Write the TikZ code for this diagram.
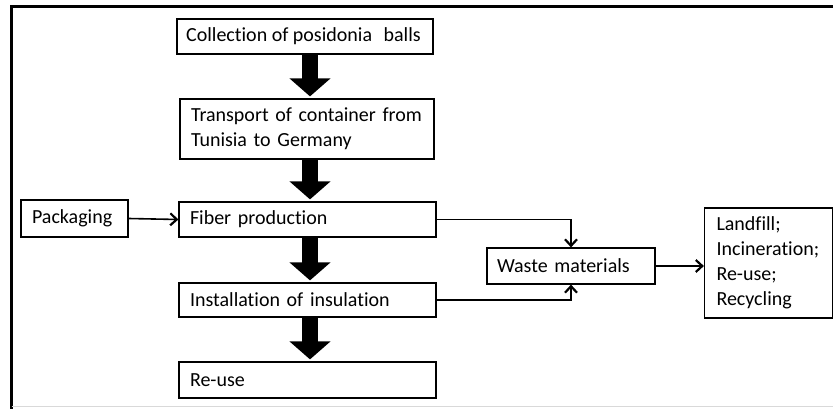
\documentclass[tikz,border=0pt]{standalone}
\usepackage{fontspec}
\setmainfont[Ligatures={NoCommon,NoContextual},Contextuals={NoAlternate}]{Carlito}
\usetikzlibrary{arrows.meta}
\begin{document}
\begin{tikzpicture}[x=1pt,y=-1pt,
  box/.style={draw, line width=1.2pt, inner xsep=11pt, inner ysep=2pt, align=left,
    font=\fontsize{20}{25}\selectfont},
  bigarrow/.style={line width=16pt, -{Triangle[length=18pt,width=40pt]}, shorten >=2pt},
  thinarrow/.style={line width=1.6pt, -{Straight Barb[length=6.5pt,width=12pt,line width=2.2pt]}}
]
\useasboundingbox (0,0) rectangle (833,409);
% frame
\draw[line width=2.5pt] (11.5,412) -- (11.5,6.5) -- (840,6.5);
\draw[line width=1pt, black!15] (11.5,406.5) -- (840,406.5);
% boxes
\node[box, align=center, inner xsep=0pt, minimum width=256pt, minimum height=35pt] (coll) at (305,36.5) {\hspace{-3pt}Collection of posidonia\hspace{0.35em} balls};
\node[box, minimum width=254pt, minimum height=60pt, text width=232pt] (trans) at (307,129) {Transport of container from\\Tunisia to Germany};
\node[box, minimum width=257pt, minimum height=35pt, text width=235pt] (fiber) at (307.5,219.5) {Fiber production};
\node[box, minimum width=107pt, minimum height=37pt, text width=85pt] (pack) at (74.5,218.5) {Packaging};
\node[box, minimum width=257pt, minimum height=34pt, text width=235pt] (inst) at (307.5,300) {Installation of insulation};
\node[box, minimum width=257pt, minimum height=36pt, text width=235pt] (reuse) at (307.5,380) {Re-use};
\node[box, inner xsep=10pt, minimum width=168pt, minimum height=36pt, text width=148pt] (waste) at (571,266) {Waste materials};
\node[box, inner xsep=12pt, minimum width=128pt, minimum height=110pt, text width=104pt] (land) at (768.5,263) {Landfill;\\Incineration;\\Re-use;\\Recycling};
% thick arrows
\coordinate (ax) at (310,0);
\draw[bigarrow] (coll.south -| ax) -- (trans.north -| ax);
\draw[bigarrow] (trans.south -| ax) -- (fiber.north -| ax);
\draw[bigarrow] (fiber.south -| ax) -- (inst.north -| ax);
\draw[bigarrow] (inst.south -| ax) -- (reuse.north -| ax);
% thin connectors
\draw[thinarrow] (pack.east) -- (fiber.west);
\draw[thinarrow] (fiber.east) -| (waste.north);
\draw[thinarrow] (inst.east) -| (waste.south);
\draw[thinarrow] (waste.east) -- (waste.east -| land.west);
\end{tikzpicture}
\end{document}
